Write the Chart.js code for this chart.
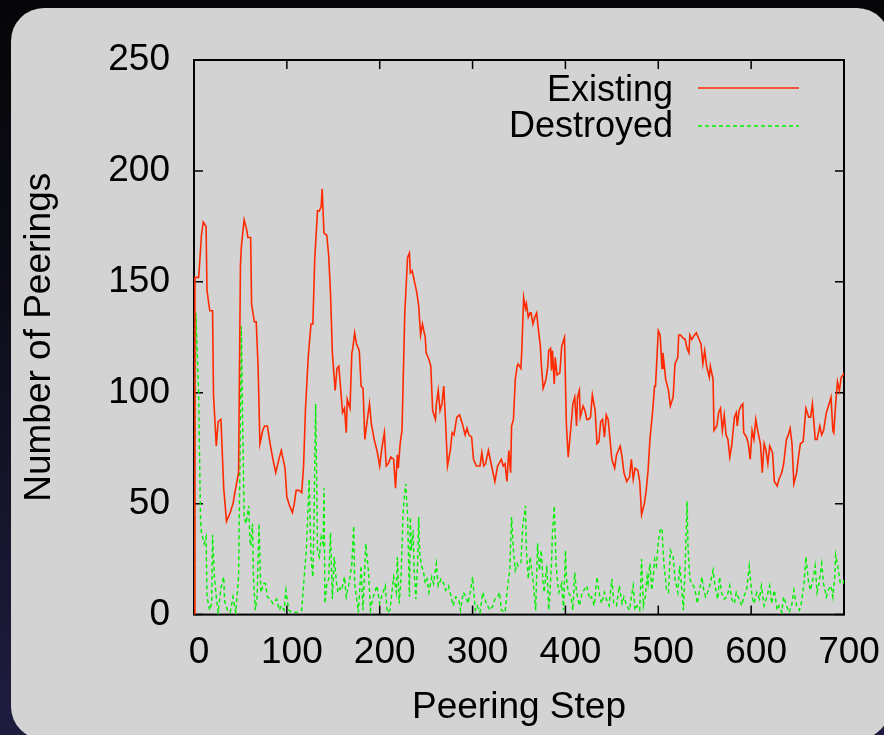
<!DOCTYPE html>
<html>
<head>
<meta charset="utf-8">
<script src="https://cdn.jsdelivr.net/npm/chart.js@4.4.1/dist/chart.umd.min.js"></script>
<style>
html,body{margin:0;padding:0;background:#000;overflow:hidden;}
canvas{display:block;}
</style>
</head>
<body>
<canvas id="c" width="884" height="735"></canvas>
<script>
// ---- Data ----
const seriesNames = ['Existing', 'Destroyed'];
const xTickValues = [0, 100, 200, 300, 400, 500, 600, 700];
const yTickValues = [0, 50, 100, 150, 200, 250];

// [peering step, number of peerings]
const existingData = [
[0,0],[1,152],[5,152],[6,158],[8,171],[10,177],[13,175],[14,146],[17,137],[20,137],[21,99],[24,76],[26,87],[29,88],[32,57],[35,42],[39,46],[42,50],[44,55],[48,64],[50,157],[51,166],[54,178],[57,173],[58,170],[61,170],[62,140],[65,132],[67,132],[69,112],[71,77],[74,83],[76,85],[79,85],[82,77],[85,70],[88,64],[92,71],[94,74],[98,66],[100,53],[103,49],[106,46],[108,50],[110,56],[113,56],[116,55],[118,67],[120,92],[123,116],[126,131],[128,131],[130,160],[133,182],[135,182],[137,184],[138,192],[140,172],[143,171],[145,162],[147,145],[149,118],[152,101],[154,111],[156,112],[160,91],[162,93],[164,82],[165,97],[168,93],[170,118],[171,120],[173,127],[175,122],[178,119],[180,103],[182,102],[184,79],[187,89],[189,95],[191,86],[194,79],[197,74],[200,67],[202,74],[205,82],[207,67],[209,68],[212,71],[215,70],[217,57],[219,72],[220,66],[222,77],[224,83],[227,136],[230,161],[232,163],[233,154],[235,155],[238,149],[240,145],[242,139],[244,126],[246,131],[249,125],[250,118],[253,115],[255,112],[257,92],[260,88],[261,95],[263,101],[265,92],[267,95],[269,103],[271,86],[273,67],[276,74],[278,82],[280,81],[283,89],[286,90],[289,86],[292,81],[294,84],[296,81],[299,80],[301,70],[304,67],[308,67],[310,73],[312,67],[314,68],[317,74],[320,68],[322,64],[324,60],[327,67],[331,70],[333,67],[335,68],[337,60],[339,74],[341,64],[342,85],[344,88],[346,106],[348,112],[349,113],[352,111],[353,119],[355,143],[357,138],[358,140],[360,134],[362,136],[363,136],[365,131],[367,134],[369,136],[371,128],[373,121],[374,113],[376,102],[379,106],[381,112],[382,119],[384,120],[385,110],[386,119],[388,104],[389,116],[391,108],[394,109],[396,121],[399,125],[401,86],[403,71],[406,85],[408,95],[410,98],[412,85],[413,98],[415,101],[416,89],[419,94],[421,92],[423,88],[425,88],[427,89],[429,99],[432,92],[434,77],[436,78],[438,87],[440,88],[442,80],[444,90],[446,88],[448,79],[450,70],[453,66],[455,72],[457,74],[459,76],[461,71],[463,64],[466,60],[469,62],[471,70],[473,61],[475,66],[478,65],[480,60],[482,45],[485,50],[487,56],[489,65],[491,79],[494,92],[496,103],[497,103],[500,128],[502,126],[504,111],[505,118],[508,106],[511,101],[513,94],[516,98],[518,113],[521,116],[522,126],[524,126],[526,125],[529,124],[531,120],[533,118],[534,126],[536,124],[539,126],[541,127],[543,125],[546,122],[548,113],[550,119],[552,112],[555,107],[556,112],[559,106],[560,83],[563,85],[565,91],[567,93],[569,83],[571,90],[573,81],[575,79],[577,71],[579,76],[582,89],[584,91],[585,85],[587,92],[589,94],[591,95],[592,82],[595,80],[597,77],[599,70],[601,83],[603,79],[605,88],[607,83],[610,77],[612,64],[614,77],[616,74],[618,68],[620,76],[623,73],[625,60],[628,58],[630,61],[633,64],[635,68],[638,79],[640,81],[642,84],[644,77],[646,59],[649,64],[651,71],[653,77],[656,78],[659,93],[662,89],[664,89],[666,95],[669,79],[671,79],[674,85],[676,81],[678,83],[681,91],[684,95],[686,98],[688,83],[689,82],[691,95],[693,105],[695,101],[697,107],[699,108],[700,109]
];

const destroyedData = [
[0,0],[2,136],[5,100],[7,43],[8,37],[11,32],[13,35],[14,8],[17,2],[19,5],[20,36],[22,17],[24,8],[26,1],[29,12],[32,17],[33,6],[36,2],[39,1],[42,8],[45,1],[48,17],[50,89],[51,130],[52,97],[54,44],[56,41],[59,49],[60,35],[61,31],[63,41],[64,17],[66,2],[68,8],[70,41],[72,10],[75,14],[77,14],[79,8],[82,7],[85,5],[89,7],[92,2],[94,4],[97,2],[99,11],[102,2],[105,1],[109,1],[112,1],[116,2],[119,19],[121,29],[124,61],[126,26],[128,17],[129,37],[131,95],[132,65],[133,29],[135,26],[137,35],[139,32],[140,57],[141,5],[143,14],[145,16],[147,37],[149,7],[151,26],[153,16],[155,10],[157,12],[159,11],[162,17],[164,8],[167,14],[170,23],[172,40],[173,14],[177,1],[180,22],[182,2],[185,32],[188,19],[190,2],[193,8],[197,13],[200,5],[202,8],[206,13],[208,1],[211,2],[215,17],[218,10],[219,26],[221,5],[223,17],[225,44],[226,51],[228,59],[230,45],[232,8],[233,44],[234,29],[236,38],[237,20],[239,7],[241,25],[242,44],[243,28],[245,22],[247,20],[249,14],[251,16],[253,10],[256,17],[258,14],[261,23],[263,13],[266,16],[269,14],[271,11],[274,13],[277,8],[279,4],[282,8],[285,7],[287,2],[290,10],[293,8],[295,5],[298,11],[300,17],[303,2],[305,4],[308,1],[311,10],[313,7],[316,4],[319,2],[322,4],[324,7],[327,8],[329,10],[331,2],[335,1],[337,10],[340,20],[342,44],[344,29],[346,20],[348,23],[349,22],[352,23],[354,40],[357,49],[358,29],[360,16],[362,26],[364,19],[365,16],[368,2],[370,32],[372,20],[374,29],[376,14],[377,10],[380,22],[382,2],[383,7],[385,23],[386,37],[388,49],[390,22],[392,13],[393,10],[396,14],[398,2],[400,29],[401,17],[403,10],[406,8],[408,2],[410,19],[412,10],[415,4],[418,10],[420,11],[423,13],[426,7],[428,8],[431,4],[434,17],[437,8],[439,5],[442,10],[444,7],[447,4],[450,16],[452,5],[455,4],[458,13],[461,5],[463,8],[466,4],[469,2],[471,8],[473,13],[475,2],[477,4],[480,2],[482,25],[484,4],[486,8],[488,17],[489,14],[491,23],[493,11],[495,19],[496,25],[498,22],[500,33],[502,38],[504,39],[506,23],[509,11],[511,10],[513,29],[516,26],[518,16],[521,10],[523,22],[525,13],[527,2],[529,22],[531,51],[532,31],[534,16],[536,14],[538,13],[540,10],[542,5],[544,10],[547,17],[549,11],[551,8],[554,11],[556,14],[559,20],[561,13],[564,7],[566,17],[568,10],[571,7],[574,8],[577,13],[579,7],[582,5],[584,10],[587,7],[590,4],[592,8],[595,11],[598,22],[601,8],[603,5],[606,10],[609,7],[611,13],[614,4],[617,8],[620,13],[622,5],[625,11],[628,2],[630,4],[633,1],[635,8],[638,4],[641,1],[644,5],[646,11],[649,4],[652,2],[654,5],[657,14],[659,26],[662,14],[664,11],[667,17],[669,22],[671,10],[673,14],[676,23],[678,14],[681,8],[683,11],[686,13],[688,8],[690,17],[691,27],[694,20],[696,14],[699,14],[700,16]
];

// ---- Styling ----
const FONT = "'Liberation Sans', Arial, Helvetica, sans-serif";
const RED = '#ff2a00';
const GREEN = '#00f000';

const backgroundPlugin = {
  id: 'bgPanel',
  beforeDraw(chart) {
    const ctx = chart.ctx, w = chart.width, h = chart.height;
    ctx.save();
    const g = ctx.createLinearGradient(0, 0, 0, h);
    g.addColorStop(0, '#060608');
    g.addColorStop(0.35, '#0c0c16');
    g.addColorStop(1, '#1e1d40');
    ctx.fillStyle = g;
    ctx.fillRect(0, 0, w, h);
    const x = 11, y = 8, pw = 879, ph = 731.5, r = 33;
    ctx.beginPath();
    ctx.moveTo(x + r, y);
    ctx.lineTo(x + pw - r, y);
    ctx.arcTo(x + pw, y, x + pw, y + r, r);
    ctx.lineTo(x + pw, y + ph - r);
    ctx.arcTo(x + pw, y + ph, x + pw - r, y + ph, r);
    ctx.lineTo(x + r, y + ph);
    ctx.arcTo(x, y + ph, x, y + ph - r, r);
    ctx.lineTo(x, y + r);
    ctx.arcTo(x, y, x + r, y, r);
    ctx.closePath();
    ctx.fillStyle = '#d3d3d3';
    ctx.fill();
    ctx.restore();
  }
};

const framePlugin = {
  id: 'frame',
  beforeDatasetsDraw(chart) {
    const {ctx, chartArea: a, scales: {x, y}} = chart;
    ctx.save();
    ctx.strokeStyle = '#000';
    ctx.lineWidth = 2;
    ctx.strokeRect(a.left, a.top, a.right - a.left, a.bottom - a.top);
    ctx.lineWidth = 1.5;
    const L = 9;
    ctx.beginPath();
    x.ticks.forEach(t => {
      const px = x.getPixelForValue(t.value);
      ctx.moveTo(px, a.bottom); ctx.lineTo(px, a.bottom - L);
      ctx.moveTo(px, a.top); ctx.lineTo(px, a.top + L);
    });
    y.ticks.forEach(t => {
      const py = y.getPixelForValue(t.value);
      ctx.moveTo(a.left, py); ctx.lineTo(a.left + L, py);
      ctx.moveTo(a.right, py); ctx.lineTo(a.right - L, py);
    });
    ctx.stroke();
    ctx.restore();
  }
};

const keyPlugin = {
  id: 'gnuKey',
  afterDatasetsDraw(chart) {
    const {ctx, chartArea: a} = chart;
    ctx.save();
    ctx.font = '36px ' + FONT;
    ctx.textAlign = 'right';
    ctx.textBaseline = 'alphabetic';
    chart.data.datasets.forEach((ds, i) => {
      const baseY = a.top + 40.5 + i * 36.5;
      const lineY = a.top + 28 + i * 38;
      ctx.fillStyle = '#000';
      ctx.fillText(ds.label, a.right - 171, baseY);
      ctx.strokeStyle = ds.borderColor;
      ctx.lineWidth = ds.borderWidth;
      ctx.setLineDash(ds.borderDash || []);
      ctx.beginPath();
      ctx.moveTo(a.right - 146, lineY);
      ctx.lineTo(a.right - 45, lineY);
      ctx.stroke();
    });
    ctx.restore();
  }
};

const toPoints = arr => arr.map(p => ({x: p[0], y: p[1]}));

new Chart(document.getElementById('c'), {
  type: 'line',
  data: {
    datasets: [
      {
        label: seriesNames[0],
        data: toPoints(existingData),
        borderColor: RED,
        backgroundColor: RED,
        borderWidth: 1.6,
        pointRadius: 0,
        tension: 0,
        fill: false
      },
      {
        label: seriesNames[1],
        data: toPoints(destroyedData),
        borderColor: GREEN,
        backgroundColor: GREEN,
        borderWidth: 1.4,
        borderDash: [4, 3],
        pointRadius: 0,
        tension: 0,
        fill: false
      }
    ]
  },
  options: {
    responsive: false,
    animation: false,
    devicePixelRatio: 1,
    layout: { padding: { left: 0, top: 60, right: 40, bottom: 0 } },
    plugins: {
      legend: { display: false },
      tooltip: { enabled: false }
    },
    scales: {
      x: {
        type: 'linear',
        min: 0, max: 700,
        afterBuildTicks: s => { s.ticks = xTickValues.map(v => ({value: v})); },
        afterFit: s => { s.height = 120.4; s.paddingLeft = 0; s.paddingRight = 0; },
        grid: { display: false, drawTicks: false },
        border: { display: false },
        ticks: {
          color: '#000',
          font: { family: FONT, size: 37 },
          padding: 16,
          labelOffset: 5,
          maxRotation: 0,
          autoSkip: false
        },
        title: {
          display: true,
          text: 'Peering Step',
          color: '#000',
          font: { family: FONT, size: 37 },
          padding: { top: 0, bottom: 5 }
        }
      },
      y: {
        type: 'linear',
        min: 0, max: 250,
        afterBuildTicks: s => { s.ticks = yTickValues.map(v => ({value: v})); },
        afterFit: s => { s.width = 194; s.paddingTop = 0; s.paddingBottom = 0; },
        grid: { display: false, drawTicks: false },
        border: { display: false },
        ticks: {
          color: '#000',
          font: { family: FONT, size: 37 },
          padding: 24,
          autoSkip: false
        },
        title: {
          display: true,
          text: 'Number of Peerings',
          color: '#000',
          font: { family: FONT, size: 37 },
          padding: { top: 18, bottom: 0 }
        }
      }
    }
  },
  plugins: [backgroundPlugin, framePlugin, keyPlugin]
});
</script>
</body>
</html>
